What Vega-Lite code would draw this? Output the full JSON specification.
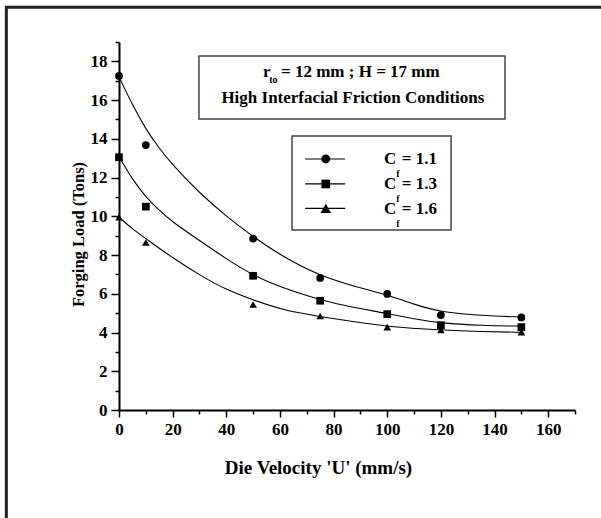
{
  "$schema": "https://vega.github.io/schema/vega-lite/v6.json",
  "width": 456,
  "height": 368,
  "autosize": {"type": "none"},
  "padding": {"left": 119, "top": 42, "right": 26, "bottom": 108},
  "background": "white",
  "data": {"values": [{}]},
  "config": {
    "view": {"stroke": null},
    "axis": {"labelFont": "Liberation Serif", "labelFontWeight": "bold", "labelFontSize": 17, "labelColor": "black", "titleFont": "Liberation Serif", "titleFontWeight": "bold", "titleFontSize": 17, "titleColor": "black", "domainColor": "black", "tickColor": "black", "grid": false},
    "text": {"font": "Liberation Serif", "fontWeight": "bold", "fontSize": 17, "color": "black"}
  },
  "datasets": {
    "points": [
      {"U": 0, "load": 17.25, "Cf": "1.1"}, {"U": 10, "load": 13.68, "Cf": "1.1"}, {"U": 50, "load": 8.85, "Cf": "1.1"}, {"U": 75, "load": 6.82, "Cf": "1.1"}, {"U": 100, "load": 5.99, "Cf": "1.1"}, {"U": 120, "load": 4.9, "Cf": "1.1"}, {"U": 150, "load": 4.78, "Cf": "1.1"},
      {"U": 0, "load": 13.05, "Cf": "1.3"}, {"U": 10, "load": 10.5, "Cf": "1.3"}, {"U": 50, "load": 6.93, "Cf": "1.3"}, {"U": 75, "load": 5.64, "Cf": "1.3"}, {"U": 100, "load": 4.95, "Cf": "1.3"}, {"U": 120, "load": 4.38, "Cf": "1.3"}, {"U": 150, "load": 4.28, "Cf": "1.3"},
      {"U": 0, "load": 9.95, "Cf": "1.6"}, {"U": 10, "load": 8.65, "Cf": "1.6"}, {"U": 50, "load": 5.45, "Cf": "1.6"}, {"U": 75, "load": 4.85, "Cf": "1.6"}, {"U": 100, "load": 4.28, "Cf": "1.6"}, {"U": 120, "load": 4.13, "Cf": "1.6"}, {"U": 150, "load": 4.02, "Cf": "1.6"}
    ],
    "curves": [
      {"U": 0, "load": 17.2, "Cf": "1.1"}, {"U": 5, "load": 15.75, "Cf": "1.1"}, {"U": 10, "load": 14.5, "Cf": "1.1"}, {"U": 15, "load": 13.5, "Cf": "1.1"}, {"U": 20, "load": 12.65, "Cf": "1.1"}, {"U": 30, "load": 11.2, "Cf": "1.1"}, {"U": 40, "load": 10.0, "Cf": "1.1"}, {"U": 50, "load": 8.95, "Cf": "1.1"}, {"U": 60, "load": 8.0, "Cf": "1.1"}, {"U": 75, "load": 6.9, "Cf": "1.1"}, {"U": 90, "load": 6.3, "Cf": "1.1"}, {"U": 100, "load": 5.95, "Cf": "1.1"}, {"U": 110, "load": 5.45, "Cf": "1.1"}, {"U": 120, "load": 5.05, "Cf": "1.1"}, {"U": 135, "load": 4.88, "Cf": "1.1"}, {"U": 150, "load": 4.8, "Cf": "1.1"},
      {"U": 0, "load": 13.08, "Cf": "1.3"}, {"U": 5, "load": 11.9, "Cf": "1.3"}, {"U": 10, "load": 11.0, "Cf": "1.3"}, {"U": 15, "load": 10.3, "Cf": "1.3"}, {"U": 20, "load": 9.7, "Cf": "1.3"}, {"U": 30, "load": 8.75, "Cf": "1.3"}, {"U": 40, "load": 7.8, "Cf": "1.3"}, {"U": 50, "load": 6.95, "Cf": "1.3"}, {"U": 60, "load": 6.35, "Cf": "1.3"}, {"U": 75, "load": 5.68, "Cf": "1.3"}, {"U": 86, "load": 5.33, "Cf": "1.3"}, {"U": 100, "load": 4.99, "Cf": "1.3"}, {"U": 110, "load": 4.7, "Cf": "1.3"}, {"U": 120, "load": 4.48, "Cf": "1.3"}, {"U": 135, "load": 4.36, "Cf": "1.3"}, {"U": 150, "load": 4.33, "Cf": "1.3"},
      {"U": 0, "load": 9.95, "Cf": "1.6"}, {"U": 5, "load": 9.35, "Cf": "1.6"}, {"U": 10, "load": 8.85, "Cf": "1.6"}, {"U": 20, "load": 7.85, "Cf": "1.6"}, {"U": 30, "load": 6.97, "Cf": "1.6"}, {"U": 40, "load": 6.2, "Cf": "1.6"}, {"U": 50, "load": 5.68, "Cf": "1.6"}, {"U": 61, "load": 5.16, "Cf": "1.6"}, {"U": 75, "load": 4.82, "Cf": "1.6"}, {"U": 88, "load": 4.55, "Cf": "1.6"}, {"U": 100, "load": 4.3, "Cf": "1.6"}, {"U": 120, "load": 4.13, "Cf": "1.6"}, {"U": 135, "load": 4.05, "Cf": "1.6"}, {"U": 150, "load": 4.01, "Cf": "1.6"}
    ]
  },
  "resolve": {"axis": {"x": "independent", "y": "independent"}},
  "layer": [
    {
      "mark": {"type": "rect", "fill": null, "stroke": "#222222", "strokeWidth": 3},
      "encoding": {
        "x": {"datum": -42, "type": "quantitative", "scale": {"domain": [0, 170], "nice": false}, "axis": null},
        "x2": {"datum": 250},
        "y": {"datum": 20.79, "type": "quantitative", "scale": {"domain": [0, 19], "nice": false}, "axis": null},
        "y2": {"datum": -20}
      }
    },
    {
      "mark": {"type": "rect", "fill": null, "stroke": "#444444", "strokeWidth": 1.5},
      "encoding": {
        "x": {"datum": 29.8, "type": "quantitative", "axis": null},
        "x2": {"datum": 143.9},
        "y": {"datum": 18.28, "type": "quantitative", "axis": null},
        "y2": {"datum": 15.02}
      }
    },
    {
      "mark": {"type": "rect", "fill": null, "stroke": "#444444", "strokeWidth": 1.5},
      "encoding": {
        "x": {"datum": 64.5, "type": "quantitative", "axis": null},
        "x2": {"datum": 123.8},
        "y": {"datum": 14.15, "type": "quantitative", "axis": null},
        "y2": {"datum": 9.29}
      }
    },
    {
      "data": {"name": "curves"},
      "mark": {"type": "line", "interpolate": "basis", "color": "black", "strokeWidth": 1.1},
      "encoding": {
        "x": {"field": "U", "type": "quantitative", "axis": {"orient": "bottom", "values": [0, 20, 40, 60, 80, 100, 120, 140, 160], "title": "Die Velocity 'U' (mm/s)", "titleFontSize": 19, "tickSize": 7, "tickWidth": 1.5, "domainWidth": 2, "labelPadding": 4, "titleX": 199, "titleY": 63, "titleBaseline": "alphabetic", "titleAnchor": null, "labelFlush": false}},
        "y": {"field": "load", "type": "quantitative", "axis": {"orient": "left", "values": [0, 2, 4, 6, 8, 10, 12, 14, 16, 18], "title": "Forging Load  (Tons)", "titleFontSize": 16.5, "tickSize": 8, "tickWidth": 1.5, "domainWidth": 2, "labelPadding": 4, "titleX": -36, "titleY": 192, "titleBaseline": "alphabetic", "titleAnchor": null, "labelFlush": false}},
        "detail": {"field": "Cf"}
      }
    },
    {
      "data": {"name": "points"},
      "mark": {"type": "point", "filled": true, "color": "black", "opacity": 1},
      "encoding": {
        "x": {"field": "U", "type": "quantitative", "axis": {"orient": "bottom", "values": [10, 30, 50, 70, 90, 110, 130, 150, 170], "labels": false, "domain": false, "title": null, "tickSize": 4, "tickWidth": 1.5}},
        "y": {"field": "load", "type": "quantitative", "axis": {"orient": "left", "values": [1, 3, 5, 7, 9, 11, 13, 15, 17, 19], "labels": false, "domain": false, "title": null, "tickSize": 4, "tickWidth": 1.5}},
        "shape": {"field": "Cf", "type": "nominal", "scale": {"domain": ["1.1", "1.3", "1.6"], "range": ["circle", "square", "triangle-up"]}, "legend": null},
        "size": {"field": "Cf", "type": "nominal", "scale": {"domain": ["1.1", "1.3", "1.6"], "range": [60, 58, 85]}, "legend": null}
      }
    },
    {
      "mark": {"type": "text", "align": "left", "baseline": "alphabetic"},
      "encoding": {"x": {"datum": 53.7, "type": "quantitative", "axis": null}, "y": {"datum": 17.18, "type": "quantitative", "axis": null}, "text": {"value": "r"}}
    },
    {
      "mark": {"type": "text", "align": "left", "baseline": "alphabetic", "fontSize": 10},
      "encoding": {"x": {"datum": 56.0, "type": "quantitative", "axis": null}, "y": {"datum": 16.87, "type": "quantitative", "axis": null}, "text": {"value": "to"}}
    },
    {
      "mark": {"type": "text", "align": "left", "baseline": "alphabetic"},
      "encoding": {"x": {"datum": 60.4, "type": "quantitative", "axis": null}, "y": {"datum": 17.18, "type": "quantitative", "axis": null}, "text": {"value": "= 12 mm ; H = 17 mm"}}
    },
    {
      "mark": {"type": "text", "align": "center", "baseline": "alphabetic"},
      "encoding": {"x": {"datum": 87.2, "type": "quantitative", "axis": null}, "y": {"datum": 15.84, "type": "quantitative", "axis": null}, "text": {"value": "High Interfacial Friction Conditions"}}
    },
    {
      "mark": {"type": "rule", "color": "black", "strokeWidth": 1.2},
      "encoding": {"x": {"datum": 69.4, "type": "quantitative", "axis": null}, "x2": {"datum": 84.3}, "y": {"datum": 12.96, "type": "quantitative", "axis": null}}
    },
    {
      "mark": {"type": "rule", "color": "black", "strokeWidth": 1.2},
      "encoding": {"x": {"datum": 69.4, "type": "quantitative", "axis": null}, "x2": {"datum": 84.3}, "y": {"datum": 11.67, "type": "quantitative", "axis": null}}
    },
    {
      "mark": {"type": "rule", "color": "black", "strokeWidth": 1.2},
      "encoding": {"x": {"datum": 69.4, "type": "quantitative", "axis": null}, "x2": {"datum": 84.3}, "y": {"datum": 10.41, "type": "quantitative", "axis": null}}
    },
    {
      "mark": {"type": "point", "shape": "circle", "filled": true, "color": "black", "opacity": 1, "size": 78},
      "encoding": {"x": {"datum": 77.1, "type": "quantitative", "axis": null}, "y": {"datum": 12.96, "type": "quantitative", "axis": null}}
    },
    {
      "mark": {"type": "point", "shape": "square", "filled": true, "color": "black", "opacity": 1, "size": 75},
      "encoding": {"x": {"datum": 77.1, "type": "quantitative", "axis": null}, "y": {"datum": 11.67, "type": "quantitative", "axis": null}}
    },
    {
      "mark": {"type": "point", "shape": "triangle-up", "filled": true, "color": "black", "opacity": 1, "size": 110},
      "encoding": {"x": {"datum": 77.1, "type": "quantitative", "axis": null}, "y": {"datum": 10.41, "type": "quantitative", "axis": null}}
    },
    {
      "mark": {"type": "text", "align": "left", "baseline": "alphabetic"},
      "encoding": {"x": {"datum": 98.8, "type": "quantitative", "axis": null}, "y": {"datum": 12.7, "type": "quantitative", "axis": null}, "text": {"value": "C"}}
    },
    {
      "mark": {"type": "text", "align": "left", "baseline": "alphabetic"},
      "encoding": {"x": {"datum": 98.8, "type": "quantitative", "axis": null}, "y": {"datum": 11.4, "type": "quantitative", "axis": null}, "text": {"value": "C"}}
    },
    {
      "mark": {"type": "text", "align": "left", "baseline": "alphabetic"},
      "encoding": {"x": {"datum": 98.8, "type": "quantitative", "axis": null}, "y": {"datum": 10.1, "type": "quantitative", "axis": null}, "text": {"value": "C"}}
    },
    {
      "mark": {"type": "text", "align": "left", "baseline": "alphabetic", "fontSize": 10},
      "encoding": {"x": {"datum": 103.4, "type": "quantitative", "axis": null}, "y": {"datum": 12.04, "type": "quantitative", "axis": null}, "text": {"value": "f"}}
    },
    {
      "mark": {"type": "text", "align": "left", "baseline": "alphabetic", "fontSize": 10},
      "encoding": {"x": {"datum": 103.4, "type": "quantitative", "axis": null}, "y": {"datum": 10.75, "type": "quantitative", "axis": null}, "text": {"value": "f"}}
    },
    {
      "mark": {"type": "text", "align": "left", "baseline": "alphabetic", "fontSize": 10},
      "encoding": {"x": {"datum": 103.4, "type": "quantitative", "axis": null}, "y": {"datum": 9.46, "type": "quantitative", "axis": null}, "text": {"value": "f"}}
    },
    {
      "mark": {"type": "text", "align": "left", "baseline": "alphabetic"},
      "encoding": {"x": {"datum": 105.4, "type": "quantitative", "axis": null}, "y": {"datum": 12.7, "type": "quantitative", "axis": null}, "text": {"value": "= 1.1"}}
    },
    {
      "mark": {"type": "text", "align": "left", "baseline": "alphabetic"},
      "encoding": {"x": {"datum": 105.4, "type": "quantitative", "axis": null}, "y": {"datum": 11.4, "type": "quantitative", "axis": null}, "text": {"value": "= 1.3"}}
    },
    {
      "mark": {"type": "text", "align": "left", "baseline": "alphabetic"},
      "encoding": {"x": {"datum": 105.4, "type": "quantitative", "axis": null}, "y": {"datum": 10.1, "type": "quantitative", "axis": null}, "text": {"value": "= 1.6"}}
    }
  ]
}
